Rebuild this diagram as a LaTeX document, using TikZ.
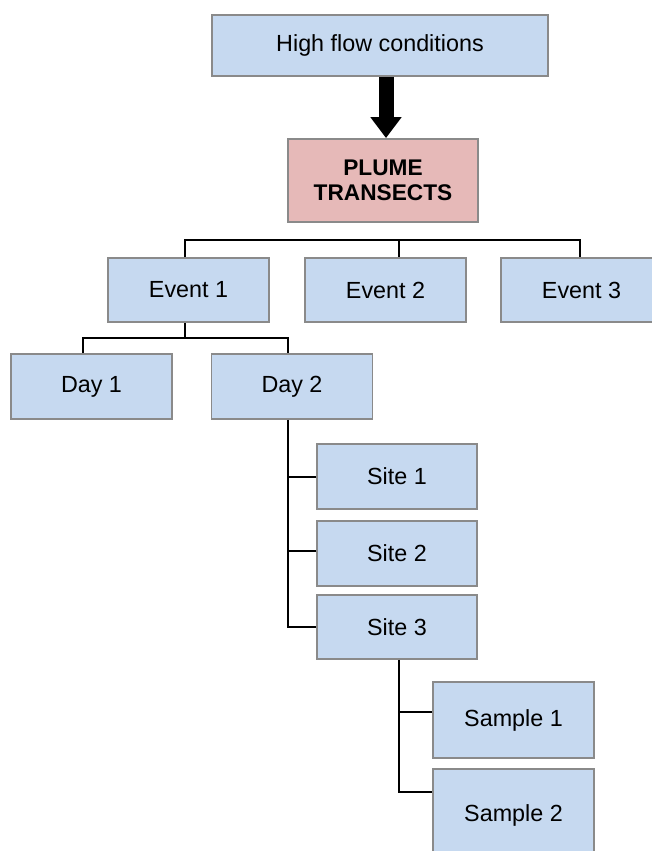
\documentclass[tikz,border=0pt]{standalone}
\usepackage{fontspec}
\setmainfont{Liberation Sans}
\usetikzlibrary{calc,arrows.meta}
\definecolor{boxblue}{HTML}{C6D9F0}
\definecolor{boxpink}{HTML}{E6B9B8}
\definecolor{boxedge}{HTML}{8A8A8A}
\begin{document}
\begin{tikzpicture}[x=0.75pt,y=-0.75pt,
  box/.style={draw=boxedge,line width=1.4pt,fill=boxblue,inner sep=0pt,
    font=\fontsize{17.5}{21}\selectfont,align=center,
    minimum width=120.75pt,minimum height=48.5pt},
  pinkbox/.style={box,fill=boxpink,font=\fontsize{17}{21}\selectfont\bfseries},
  conn/.style={draw=black,line width=1.1pt},
  bigarrow/.style={line width=11.25pt,-{Triangle[width=22.5pt,length=15.75pt]}}]
\useasboundingbox (0,0) rectangle (652,851);
\clip (0,0) rectangle (652,851);
% nodes
\node[box,minimum width=252pt,minimum height=45.75pt] (top) at (380,45.5) {High flow conditions};
\node[pinkbox,minimum width=142.5pt,minimum height=62.25pt] (plume) at (383,180.5) {PLUME\\[-2pt]TRANSECTS};
\node[box,minimum height=48pt] (ev1) at (188.5,290) {Event 1};
\node[box,minimum height=48pt] (ev2) at (385.5,290) {Event 2};
\node[box,minimum height=48pt] (ev3) at (581.5,290) {Event 3};
\node[box] (day1) at (91.5,386.5) {Day 1};
\node[box] (day2) at (292,386.5) {Day 2};
\node[box,minimum width=120pt] (site1) at (397,476.5) {Site 1};
\node[box,minimum width=120pt] (site2) at (397,553.5) {Site 2};
\node[box,minimum width=120pt,minimum height=48pt] (site3) at (397,627) {Site 3};
\node[box,minimum height=57pt] (sample1) at (513.5,720) {Sample 1};
\node[box,minimum height=69pt] (sample2) at (513.5,815) {Sample 2};
% big arrow
\coordinate (ax) at (386,0);
\draw[bigarrow] (top.south -| ax) -- (plume.north -| ax);
% events bus
\coordinate (busL) at (185,240);
\coordinate (busM) at (399,240);
\coordinate (busR) at (580,240);
\draw[conn] (ev1.north -| busL) -- (busL) -- (busR) -- (ev3.north -| busR);
\draw[conn] (busM) -- (ev2.north -| busM);
% days bus
\coordinate (dayJ) at (185,338);
\coordinate (dayL) at (83,338);
\coordinate (dayR) at (288,338);
\draw[conn] (ev1.south -| dayJ) -- (dayJ);
\draw[conn] (day1.north -| dayL) -- (dayL) -- (dayR) -- (day2.north -| dayR);
% sites
\coordinate (sx) at (288,0);
\draw[conn] (day2.south -| sx) |- (site3.west);
\draw[conn] ($(site1.west)+(0,0.6)$) -- ($(site1.west -| sx)+(0,0.6)$);
\draw[conn] ($(site2.west)+(0,-2.5)$) -- ($(site2.west -| sx)+(0,-2.5)$);
% samples
\coordinate (smx) at (399,0);
\draw[conn] (site3.south -| smx) |- ($(sample2.west)+(0,-23)$);
\draw[conn] ($(sample1.west)+(0,-8)$) -- ($(sample1.west -| smx)+(0,-8)$);
\end{tikzpicture}
\end{document}
